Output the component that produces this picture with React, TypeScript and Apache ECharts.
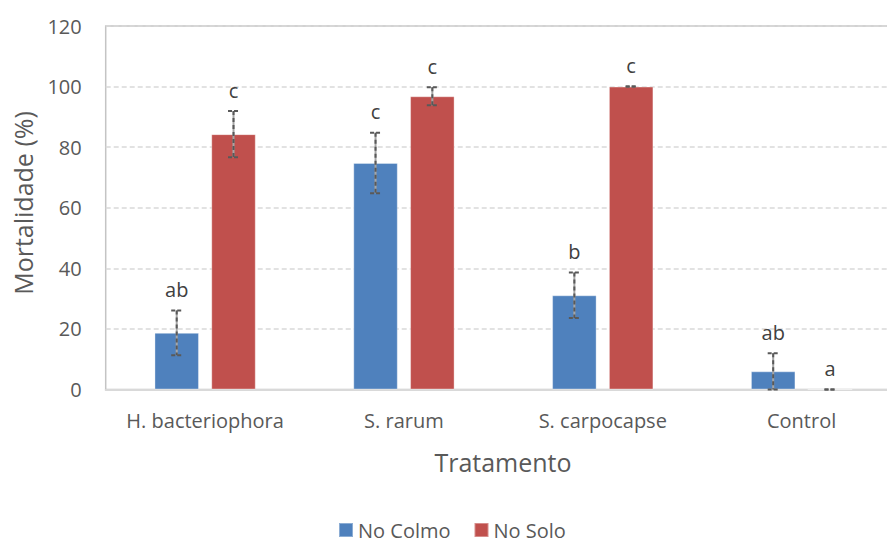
import React, { useEffect, useRef } from "react";
import * as echarts from "echarts";

// Treatments on the x axis
const categories = ["H. bacteriophora", "S. rarum", "S. carpocapse", "Control"];

// Mortality (%) with standard error, per location
const colmoValues = [18.7, 74.8, 31.1, 6.0];
const colmoErrors = [7.4, 10.0, 7.5, 6.0];
const soloValues = [84.3, 96.8, 100, 0];
const soloErrors = [7.6, 3.0, 0, 0];

// Significance letters above each bar
const colmoLetters = ["ab", "c", "b", "ab"];
const soloLetters = ["c", "c", "c", "a"];

const yTicks = { min: 0, max: 120, interval: 20 };

const FONT = "'Open Sans', 'Noto Sans', sans-serif";
const TEXT_COLOR = "#595959";
const BLUE = "#4F81BD";
const RED = "#C0504D";
const BAR_WIDTH = 44.5;
const BAR_GAP_PX = 12.3;

// The plot area runs a little past the right edge of the visible frame
const VIEW_W = 887;
const VIEW_H = 543;
const CANVAS_W = 901;

// Error bar + letter drawn for one series, shifted to sit on its bar
function makeErrorRenderer(letters: string[], shift: number) {
  return (params: any, api: any) => {
    const idx = api.value(0);
    const v = api.value(1);
    const e = api.value(2);
    const top = api.coord([idx, v + e]);
    const bot = api.coord([idx, Math.max(v - e, 0)]);
    const x = top[0] + shift;
    const yT = top[1];
    const yB = bot[1];
    const capHalf = 5.5;
    return {
      type: "group",
      children: [
        {
          type: "line",
          shape: { x1: x, y1: yT, x2: x, y2: yB },
          style: { stroke: "#a6a6a6", lineWidth: 2 },
        },
        {
          type: "line",
          shape: { x1: x, y1: yT, x2: x, y2: yB },
          style: { stroke: "#595959", lineWidth: 2, lineDash: [4, 3] },
        },
        {
          type: "line",
          shape: { x1: x - capHalf, y1: yT, x2: x + capHalf, y2: yT },
          style: { stroke: "#595959", lineWidth: 2, lineDash: [4, 2] },
        },
        {
          type: "line",
          shape: { x1: x - capHalf, y1: yB, x2: x + capHalf, y2: yB },
          style: { stroke: "#595959", lineWidth: 2, lineDash: [4, 2] },
        },
        {
          type: "text",
          x: x,
          y: yT - 21,
          style: {
            text: letters[idx],
            fill: "#404040",
            font: `20px ${FONT}`,
            align: "center",
            verticalAlign: "middle",
          },
        },
      ],
    };
  };
}

export default function App() {
  const ref = useRef<HTMLDivElement>(null);

  useEffect(() => {
    if (!ref.current) return;
    const chart = echarts.init(ref.current, null, { renderer: "svg" });
    const shift = (BAR_WIDTH + BAR_GAP_PX) / 2;

    chart.setOption({
      animation: false,
      backgroundColor: "#ffffff",
      textStyle: { fontFamily: FONT },
      grid: {
        left: 105.7,
        top: 26,
        right: 0,
        bottom: 153.5,
        show: true,
        borderColor: "#c4c4c4",
        borderWidth: 1.5,
        containLabel: false,
      },
      legend: {
        left: 338,
        top: 520,
        padding: 0,
        itemWidth: 14,
        itemHeight: 14,
        itemGap: 23,
        icon: "rect",
        data: ["No Colmo", "No Solo"],
        textStyle: {
          fontSize: 20,
          lineHeight: 18,
          color: TEXT_COLOR,
          fontFamily: FONT,
        },
      },
      xAxis: {
        type: "category",
        data: categories,
        axisTick: { show: false },
        axisLine: { lineStyle: { color: "#d9d9d9", width: 2 } },
        axisLabel: {
          interval: 0,
          fontSize: 20,
          color: TEXT_COLOR,
          margin: 21,
          fontFamily: FONT,
        },
      },
      yAxis: {
        type: "value",
        min: yTicks.min,
        max: yTicks.max,
        interval: yTicks.interval,
        axisLine: { show: false },
        axisTick: { show: false },
        axisLabel: { fontSize: 20, color: TEXT_COLOR, margin: 24, fontFamily: FONT },
        splitLine: { lineStyle: { color: "#d9d9d9", width: 1.5, type: [5, 3] } },
      },
      graphic: [
        {
          type: "text",
          x: 503,
          y: 462,
          style: {
            text: "Tratamento",
            fill: TEXT_COLOR,
            font: `25px ${FONT}`,
            align: "center",
            verticalAlign: "middle",
          },
        },
        {
          type: "text",
          x: 23,
          y: 203,
          rotation: Math.PI / 2,
          style: {
            text: "Mortalidade (%)",
            fill: TEXT_COLOR,
            font: `25px ${FONT}`,
            align: "center",
            verticalAlign: "middle",
          },
        },
      ],
      series: [
        {
          name: "No Colmo",
          type: "bar",
          data: colmoValues,
          barWidth: BAR_WIDTH,
          barGap: `${(BAR_GAP_PX / BAR_WIDTH) * 100}%`,
          itemStyle: { color: BLUE, borderColor: "rgba(255,255,255,0.35)", borderWidth: 1 },
        },
        {
          name: "No Solo",
          type: "bar",
          data: soloValues,
          barWidth: BAR_WIDTH,
          barGap: `${(BAR_GAP_PX / BAR_WIDTH) * 100}%`,
          itemStyle: { color: RED, borderColor: "rgba(255,255,255,0.35)", borderWidth: 1 },
        },
        {
          name: "err-colmo",
          type: "custom",
          clip: false,
          z: 5,
          data: colmoValues.map((v, i) => [i, v, colmoErrors[i]]),
          renderItem: makeErrorRenderer(colmoLetters, -shift),
        },
        {
          name: "err-solo",
          type: "custom",
          clip: false,
          z: 5,
          data: soloValues.map((v, i) => [i, v, soloErrors[i]]),
          renderItem: makeErrorRenderer(soloLetters, shift),
        },
      ],
    });

    return () => chart.dispose();
  }, []);

  return (
    <div
      style={{
        position: "fixed",
        left: 0,
        top: 0,
        width: VIEW_W,
        height: VIEW_H,
        overflow: "hidden",
        background: "#ffffff",
      }}
    >
      <div ref={ref} style={{ width: CANVAS_W, height: VIEW_H }} />
    </div>
  );
}
